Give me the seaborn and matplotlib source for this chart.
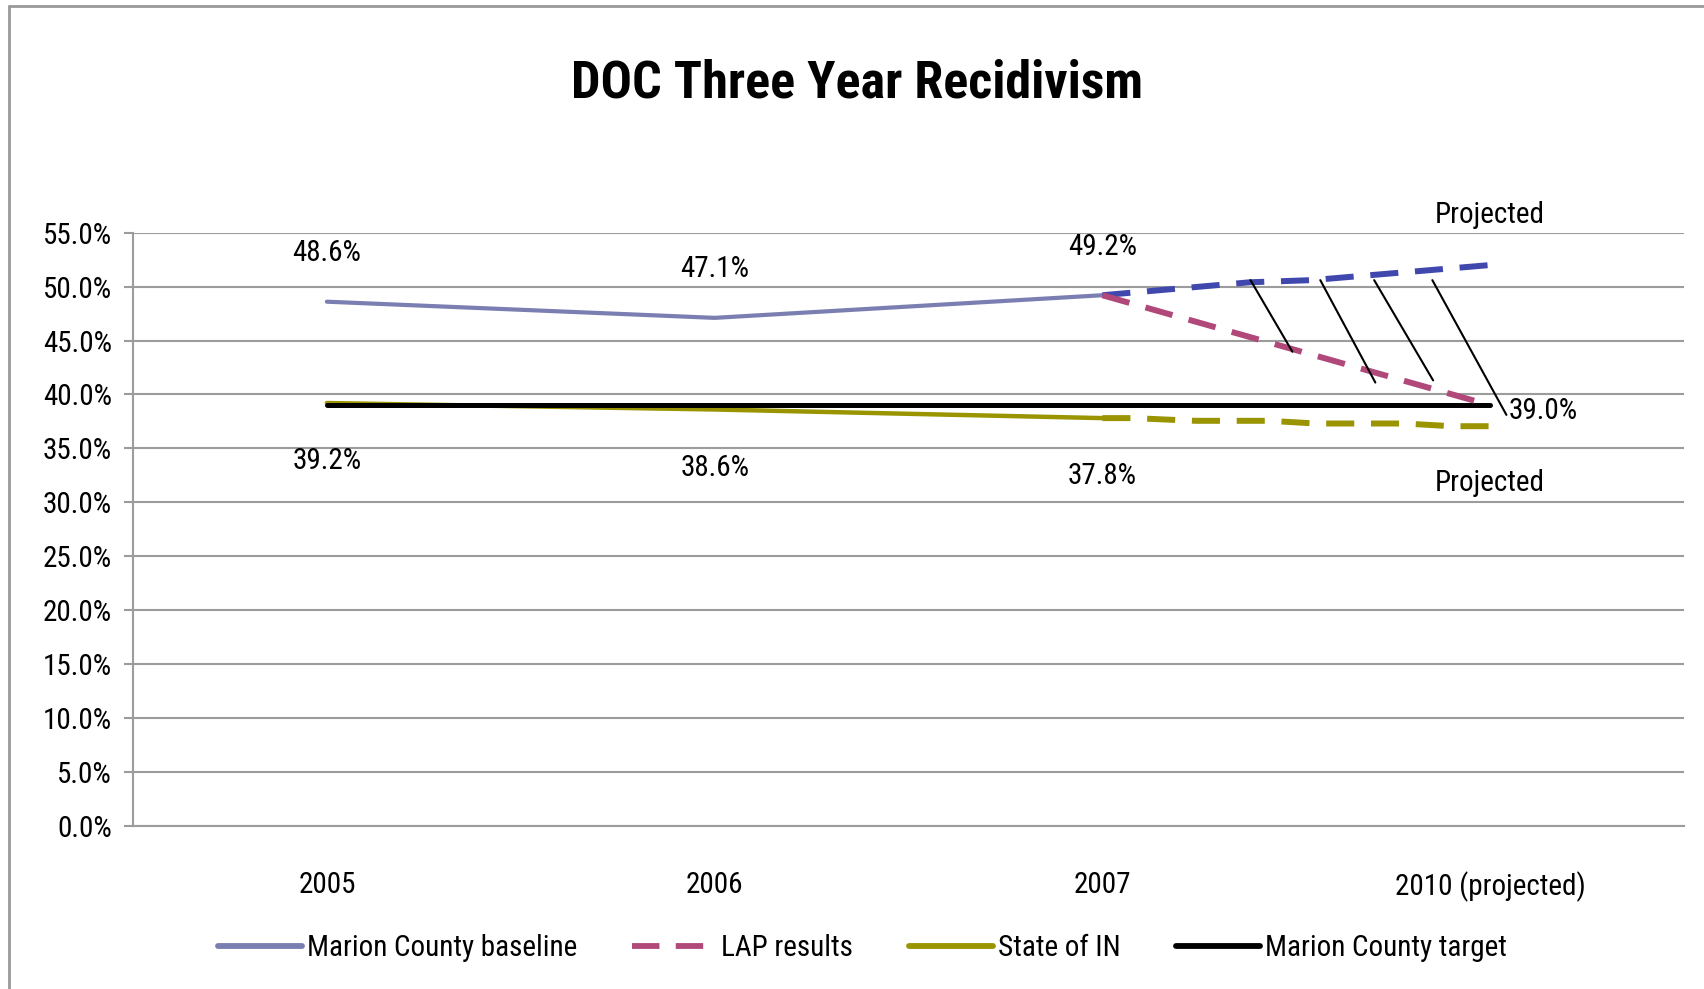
import matplotlib
matplotlib.use("Agg")
import matplotlib.pyplot as plt
from matplotlib.lines import Line2D
from matplotlib.ticker import FixedLocator, FuncFormatter
import pandas as pd
import seaborn as sns

# ---- data -------------------------------------------------------------
years = ["2005", "2006", "2007", "2010 (projected)"]
year_pos = [0, 1, 2, 3]

baseline = [48.6, 47.1, 49.2]          # Marion County baseline (2005-2007)
state_in = [39.2, 38.6, 37.8]          # State of IN (2005-2007)
target = [39.0, 39.0, 39.0, 39.0]      # Marion County target

# projected paths from 2007 to 2010, positions along the year axis
baseline_proj_pos = [2.0, 2.38, 2.54, 3.0]
baseline_proj = [49.2, 50.4, 50.6, 52.0]
lap_pos = [2.0, 3.0]
lap = [49.2, 39.0]                     # LAP results
state_proj_pos = [2.0, 2.08, 2.24, 2.43, 2.55, 2.78, 2.90, 3.0]
state_proj = [37.8, 37.8, 37.55, 37.55, 37.3, 37.3, 37.05, 37.05]

# callout leader strokes (x0, y0, x1, y1)
leaders = [
    (2.382, 50.6, 2.490, 43.96),
    (2.562, 50.6, 2.704, 41.1),
    (2.701, 50.6, 2.853, 41.3),
    (2.851, 50.6, 3.042, 38.1),
]

# ---- style ------------------------------------------------------------
sns.set_theme(style="white")
plt.rcParams["font.family"] = ["Roboto Condensed", "Liberation Sans", "DejaVu Sans"]
plt.rcParams["text.color"] = "black"
plt.rcParams["xtick.color"] = "black"
plt.rcParams["ytick.color"] = "black"

C_BASE = "#7b7eb0"
C_BASE_PROJ = "#4048ad"
C_LAP = "#b0497a"
C_STATE = "#999400"
C_TARGET = "#000000"
C_GRID = "#9c9c9c"
FS = 21

W, H = 1704, 989
fig = plt.figure(figsize=(W / 100, H / 100), dpi=100)
ax = fig.add_axes([133 / W, 1 - 825.6 / H, (1684 - 133) / W, (825.6 - 232.7) / H])

dash = (0, (4.7, 2.8))

df_base = pd.DataFrame({"x": year_pos[:3], "y": baseline})
df_state = pd.DataFrame({"x": year_pos[:3], "y": state_in})
df_target = pd.DataFrame({"x": year_pos, "y": target})
df_base_proj = pd.DataFrame({"x": baseline_proj_pos, "y": baseline_proj})
df_lap = pd.DataFrame({"x": lap_pos, "y": lap})
df_state_proj = pd.DataFrame({"x": state_proj_pos, "y": state_proj})

common = dict(ax=ax, legend=False, sort=False, estimator=None)
sns.lineplot(data=df_state, x="x", y="y", color=C_STATE, lw=3.2,
             solid_capstyle="round", label="State of IN", zorder=3, **common)
sns.lineplot(data=df_state_proj, x="x", y="y", color=C_STATE, lw=4.3,
             linestyle=dash, zorder=3, **common)
sns.lineplot(data=df_target, x="x", y="y", color=C_TARGET, lw=3.6,
             solid_capstyle="round", label="Marion County target", zorder=4, **common)
sns.lineplot(data=df_base, x="x", y="y", color=C_BASE, lw=3.0,
             solid_capstyle="round", label="Marion County baseline", zorder=3, **common)
sns.lineplot(data=df_base_proj, x="x", y="y", color=C_BASE_PROJ, lw=4.3,
             linestyle=dash, zorder=3, **common)
sns.lineplot(data=df_lap, x="x", y="y", color=C_LAP, lw=4.3,
             linestyle=dash, label="LAP results", zorder=5, **common)

for x0, y0, x1, y1 in leaders:
    ax.plot([x0, x1], [y0, y1], color="black", lw=1.5, zorder=6)

# ---- value labels -----------------------------------------------------
for x, v in zip(year_pos, baseline):
    ax.annotate(f"{v:.1f}%", (x, v), xytext=(0, 35), textcoords="offset points",
                ha="center", va="center", fontsize=FS, annotation_clip=False)
for x, v in zip(year_pos, state_in):
    ax.annotate(f"{v:.1f}%", (x, v), xytext=(0, -42), textcoords="offset points",
                ha="center", va="center", fontsize=FS, annotation_clip=False)
ax.annotate(f"{target[-1]:.1f}%", (year_pos[-1], target[-1]), xytext=(13.5, -4.5),
            textcoords="offset points", ha="left", va="center", fontsize=FS,
            annotation_clip=False)
ax.annotate("Projected", (baseline_proj_pos[-1], baseline_proj[-1]), xytext=(0, 36),
            textcoords="offset points", ha="center", va="center", fontsize=FS,
            annotation_clip=False)
ax.annotate("Projected", (state_proj_pos[-1], state_proj[-1]), xytext=(0, -41),
            textcoords="offset points", ha="center", va="center", fontsize=FS,
            annotation_clip=False)

# ---- axes -------------------------------------------------------------
ax.set_xlim(-0.5, 3.5)
ax.set_ylim(0, 55)
ax.set_xlabel("")
ax.set_ylabel("")

ax.yaxis.set_major_locator(FixedLocator([i * 5 for i in range(12)]))
ax.yaxis.set_major_formatter(FuncFormatter(lambda v, p: f"{v:.1f}%"))
ax.grid(axis="y", color=C_GRID, lw=1.5, zorder=0)
ax.grid(axis="x", visible=False)
ax.set_axisbelow(True)

ax.set_xticks(year_pos)
ax.set_xticklabels(years)
ax.xaxis.set_minor_locator(FixedLocator([-0.5, 0.5, 1.5, 2.5, 3.5]))
ax.tick_params(axis="x", which="major", length=0, pad=33, labelsize=FS, colors="black")
ax.tick_params(axis="x", which="minor", length=8, width=1.5, color=C_GRID, direction="out")
ax.tick_params(axis="y", which="major", length=6.5, width=1.5, color=C_GRID,
               direction="out", pad=8.5, labelsize=FS, labelcolor="black", left=True)

for side in ("top", "right"):
    ax.spines[side].set_visible(False)
for side in ("left", "bottom"):
    ax.spines[side].set_color(C_GRID)
    ax.spines[side].set_linewidth(1.5)

# ---- legend -----------------------------------------------------------
order = ["Marion County baseline", "LAP results", "State of IN", "Marion County target"]
by_label = {ln.get_label(): ln for ln in ax.get_lines()}
handles = [by_label[k] for k in order]
leg = fig.legend(handles, order, loc="center", bbox_to_anchor=(0.506, 1 - 948 / H),
                 ncol=4, frameon=False, fontsize=FS, handlelength=2.9,
                 handletextpad=0.15, columnspacing=1.9)
for ln in leg.get_lines():
    ln.set_linewidth(4.2)

# ---- title and chart frame ------------------------------------------
fig.text(0.503, 1 - 84 / H, "DOC Three Year Recidivism", ha="center", va="center",
         fontsize=37.5, fontweight="bold")
fig.add_artist(Line2D([9 / W, 9 / W], [0, 1 - 6 / H], color="#999999", lw=2,
                      transform=fig.transFigure))
fig.add_artist(Line2D([9 / W, 1], [1 - 6 / H, 1 - 6 / H], color="#999999", lw=2,
                      transform=fig.transFigure))

fig.savefig("out.png", dpi=100)
